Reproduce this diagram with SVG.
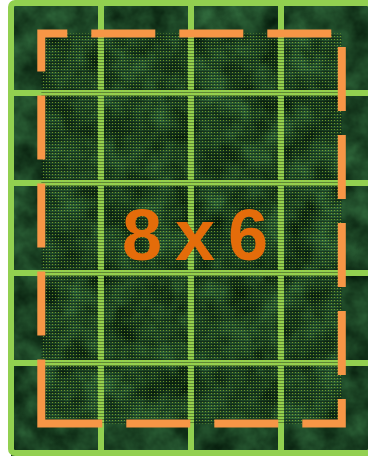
<svg xmlns="http://www.w3.org/2000/svg" width="368" height="456" viewBox="0 0 368 456">
  <style>
    .grid { stroke: #92D050; stroke-width: 6; fill: none; }
    .dash { fill: none; stroke: #F79646; stroke-width: 8; stroke-dasharray: 64 24; stroke-linecap: butt; stroke-linejoin: miter; }
    .label { font-family: "Liberation Sans", Arial, sans-serif; font-weight: bold; font-size: 72px; fill: #E46C0A; }
  </style>
  <defs>
    <filter id="marble" x="0" y="0" width="100%" height="100%" color-interpolation-filters="sRGB">
      <feTurbulence type="fractalNoise" baseFrequency="0.035" numOctaves="4" seed="7"/>
      <feColorMatrix type="matrix" values="0.22 0 0 0 0  0.4 0 0 0 0.07  0.25 0 0 0 0.02  0 0 0 0 1"/>
    </filter>
    <pattern id="dots" width="3" height="3" patternUnits="userSpaceOnUse">
      <rect x="0" y="2" width="3" height="1" fill="#000" fill-opacity="0.35"/>
      <rect x="1" y="0" width="1" height="1" fill="#A8CC30" fill-opacity="0.6"/>
    </pattern>
  </defs>
  <rect width="368" height="456" fill="#fff"/>
  <g id="tiles">
    <rect x="11" y="3" width="360" height="453" fill="#184A26"/>
    <rect x="11" y="3" width="360" height="453" filter="url(#marble)"/>
  </g>
  <g id="grid">
    <rect class="grid" x="11" y="3" width="360" height="450" rx="4"/>
    <path class="grid" d="M101,3 V453 M191,3 V453 M281,3 V453 M11,93 H371 M11,183 H371 M11,273 H371 M11,363 H371"/>
  </g>
  <g id="area">
    <rect x="41.3" y="33.5" width="300.5" height="390" fill="url(#dots)"/>
    <path class="dash" d="M41.3,423.5 V33.5 H341.8 V423.5 Z"/>
  </g>
  <g id="label">
    <text class="label" x="195" y="260" text-anchor="middle" textLength="146" lengthAdjust="spacing">8 x 6</text>
  </g>
</svg>
